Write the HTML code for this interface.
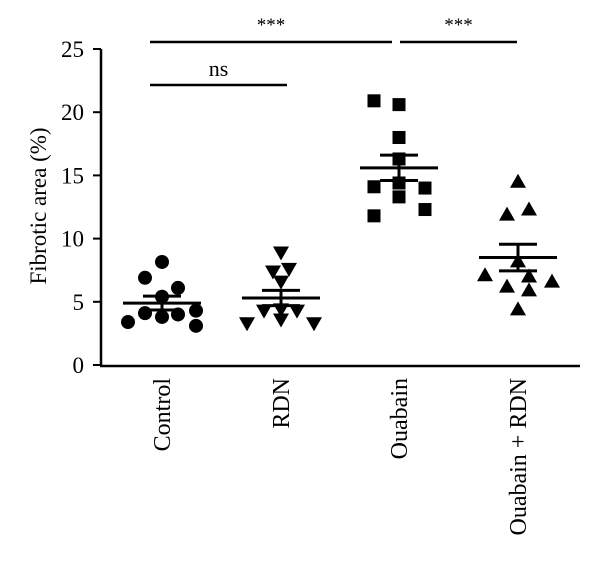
<!DOCTYPE html>
<html><head><meta charset="utf-8"><style>
body{margin:0;background:#fff}
svg{display:block;font-family:"Liberation Serif",serif}
</style></head><body>
<svg id="c" width="600" height="561" viewBox="0 0 600 561"></svg>
<script>
const categories=["Control","RDN","Ouabain","Ouabain + RDN"];
const controlVals=[8.15,6.9,6.1,5.4,4.1,3.8,4.0,4.3,3.4,3.1];
const rdnVals=[8.9,7.4,7.6,6.6,4.3,4.4,4.3,3.6,3.3,3.3];
const ouabainVals=[20.9,20.6,18.0,16.3,14.1,14.4,14.0,13.3,12.3,11.8];
const ouaRdnVals=[14.5,11.9,12.3,8.2,7.1,7.0,6.6,6.2,5.9,4.4];
const jitter=[[0,-17,16,0,-17,0,16,34,-34,34],[0,-8,8,0,-17,0,16,0,-34,33],[-25,0,0,0,-25,0,26,0,26,-25],[0,-11,11,0,-33,11,34,-11,11,0]];
const means=[4.9,5.3,15.6,8.5];
const sems=[0.55,0.6,1.0,1.05];
const yTicks=[0,5,10,15,20,25];
const NS="http://www.w3.org/2000/svg";
const svg=document.getElementById('c');
const y=v=>365-v*12.64;
const xc=[162,281,399,518];
function mk(t,a,p){const e=document.createElementNS(NS,t);for(const k in a)e.setAttribute(k,a[k]);(p||svg).appendChild(e);return e;}
let ax=mk('line',{x1:101,y1:y(25),x2:101,y2:366,stroke:'#000','stroke-width':2.5});


let xa=mk('line',{x1:100,y1:366,x2:580,y2:366,stroke:'#000','stroke-width':2.5});


yTicks.forEach(t=>{
 let l=mk('line',{x1:93,y1:y(t),x2:101,y2:y(t),stroke:'#000','stroke-width':2});
 
 
 let tx=mk('text',{x:84,y:y(t)+8,'text-anchor':'end','font-size':23});
 tx.textContent=t;
 
 
});
let yt=mk('text',{x:0,y:0,'text-anchor':'middle','font-size':23,transform:'translate(46,206) rotate(-90)'});
yt.textContent='Fibrotic area (%)';


categories.forEach((c,i)=>{
 let t=mk('text',{x:0,y:0,'text-anchor':'end','font-size':24,transform:`translate(${xc[i]+8},378) rotate(-90)`});
 t.textContent=c;
 
 
});
const series=[controlVals,rdnVals,ouabainVals,ouaRdnVals];
series.forEach((vals,i)=>{
 vals.forEach((v,j)=>{
  const px=xc[i]+jitter[i][j],py=y(v);let m;
  if(i===0)m=mk('circle',{cx:px,cy:py,r:7,fill:'#000'});
  else if(i===1)m=mk('polygon',{points:`${px-8},${py-6} ${px+8},${py-6} ${px},${py+8}`,fill:'#000'});
  else if(i===2)m=mk('rect',{x:px-6.5,y:py-6.5,width:13,height:13,fill:'#000'});
  else m=mk('polygon',{points:`${px-8},${py+6} ${px+8},${py+6} ${px},${py-8}`,fill:'#000'});
  
  
 });
 const g=mk('g',{stroke:'#000','stroke-width':3});
 
 
 mk('line',{x1:xc[i]-39,y1:y(means[i]),x2:xc[i]+39,y2:y(means[i])},g);
 mk('line',{x1:xc[i]-19,y1:y(means[i]+sems[i]),x2:xc[i]+19,y2:y(means[i]+sems[i])},g);
 mk('line',{x1:xc[i]-19,y1:y(means[i]-sems[i]),x2:xc[i]+19,y2:y(means[i]-sems[i])},g);
 mk('line',{x1:xc[i],y1:y(means[i]+sems[i]),x2:xc[i],y2:y(means[i]-sems[i])},g);
});
[[150,392,42,'***',31],[400,517,42,'***',31],[150,287,85,'ns',76]].forEach(s=>{
 let l=mk('line',{x1:s[0],y1:s[2],x2:s[1],y2:s[2],stroke:'#000','stroke-width':2.5});
 
 
 let t=mk('text',{x:(s[0]+s[1])/2,y:s[4],'text-anchor':'middle','font-size':s[3]==='ns'?22:19});
 t.textContent=s[3];
 
 
});
</script>
</body></html>
